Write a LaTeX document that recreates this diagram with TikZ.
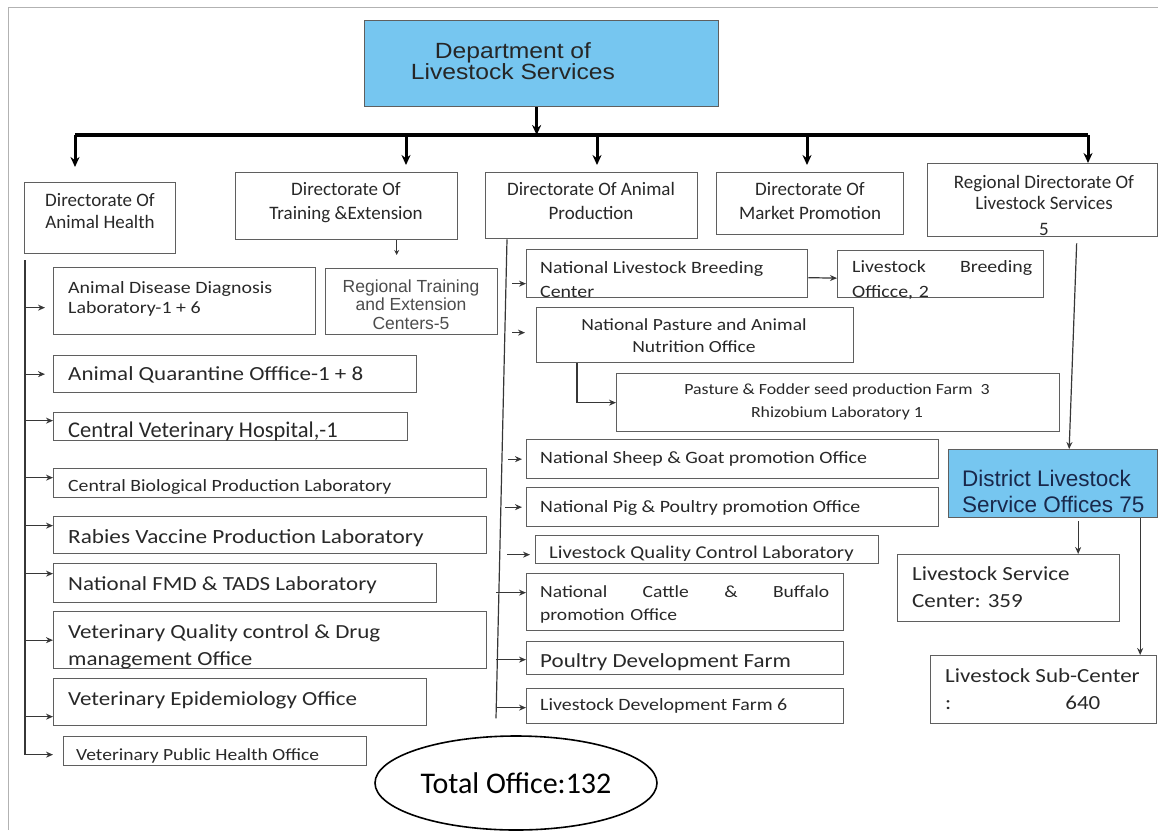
\documentclass[tikz,border=0pt]{standalone}
\usepackage{fontspec}
\usetikzlibrary{arrows.meta,shapes.geometric}
\setmainfont{Carlito}
\newfontfamily\calw{Carlito}[FakeStretch=1.15]
\newfontfamily\arif{Liberation Sans}
\newfontfamily\ariw{Liberation Sans}[FakeStretch=1.12]
\newcommand{\fsz}[2]{\fontsize{#1}{#2}\selectfont}
\definecolor{skyb}{RGB}{118,198,240}
\definecolor{boxc}{RGB}{95,95,95}
\definecolor{linec}{RGB}{55,55,55}
\definecolor{txt}{RGB}{40,40,40}
\definecolor{dnavy}{RGB}{25,40,75}

\begin{document}
\begin{tikzpicture}[x=1pt,y=-1pt,
  box/.style={draw=boxc,line width=1.3pt,anchor=north west,inner sep=0pt},
  lbl/.style={anchor=base west,inner sep=0pt,text=txt,align=left},
  clbl/.style={anchor=base,inner sep=0pt,text=txt,align=center},
  bigarrow/.style={line width=3pt,-{Stealth[length=10pt,width=9pt]}},
  sarrow/.style={draw=linec,line width=1.2pt,-{Stealth[length=7pt,width=6pt]}},
  tarrow/.style={draw=linec,line width=1pt,-{Stealth[length=5pt,width=5pt]}}]
\useasboundingbox (0,0) rectangle (1158,830);
\draw[gray!60,line width=1pt] (8,830) -- (8,7) -- (1158,7);

% department
\node[box,fill=skyb,minimum width=354,minimum height=86] (dls) at (364,20) {};
\node[clbl,font=\ariw\fsz{22}{21},text=black!85] (dlst) at (513,79) {Department of\\Livestock Services};

% bus
\coordinate (busl) at (75,135);
\coordinate (busr) at (1088,135);
\coordinate (bdte) at (406,135);
\coordinate (bdap) at (597,135);
\coordinate (bdmp) at (807,135);
\draw[line width=3.5pt] (busl) -- (busr);
\draw[bigarrow] ([xshift=-5]dls.south) -- ([xshift=-5]dls.south |- busl);

% directorates
\node[box,minimum width=151,minimum height=71] (dah) at (24,182) {};
\node[clbl,font=\fsz{19}{22}] (daht) at (100,228) {Directorate Of\\Animal Health};
\node[box,minimum width=222,minimum height=67] (dte) at (235,172) {};
\node[clbl,font=\fsz{19}{24}] (dtet) at (346,219) {Directorate Of\\Training \&Extension};
\node[box,minimum width=212,minimum height=66] (dap) at (485,172) {};
\node[clbl,font=\fsz{19}{24}] (dapt) at (591,219) {Directorate Of Animal\\Production};
\node[box,minimum width=187,minimum height=62] (dmp) at (716,172) {};
\node[clbl,font=\fsz{19}{24}] (dmpt) at (810,219) {Directorate Of\\Market Promotion};
\node[box,minimum width=230,minimum height=73] (rdls) at (927,163) {};
\node[clbl,font=\fsz{19}{21}] (rdlst) at (1044,235) {Regional Directorate Of\\Livestock Services\\[5pt]5};

\draw[bigarrow,shorten >=15] (busl) -- (busl |- dah.north);
\draw[bigarrow,shorten >=7] (bdte) -- (bdte |- dte.north);
\draw[bigarrow,shorten >=7] (bdap) -- (bdap |- dap.north);
\draw[bigarrow,shorten >=7] (bdmp) -- (bdmp |- dmp.north);
\draw[bigarrow] (busr) -- (busr |- rdls.north);

% animal health
\node[box,minimum width=262,minimum height=67] (adl) at (53,267) {};
\node[lbl,font=\calw\fsz{17.3}{20}] (adlt) at (68,313) {Animal Disease Diagnosis\\Laboratory-1 + 6};
\node[box,minimum width=363,minimum height=37] (aqo) at (53,355) {};
\node[lbl,font=\calw\fsz{20}{24}] (aqot) at (68,380) {Animal Quarantine Offfice-1 + 8};
\node[box,minimum width=354,minimum height=28] (cvh) at (53,412) {};
\node[lbl,font=\fsz{22.5}{24}] (cvht) at (68,437) {Central Veterinary Hospital,-1};
\node[box,minimum width=433,minimum height=29] (cbpl) at (53,468) {};
\node[lbl,font=\calw\fsz{17.2}{20}] (cbplt) at (68,491) {Central Biological Production Laboratory};
\node[box,minimum width=433,minimum height=37] (rvpl) at (53,516) {};
\node[lbl,font=\calw\fsz{20.2}{24}] (rvplt) at (68,543) {Rabies Vaccine Production Laboratory};
\node[box,minimum width=383,minimum height=39] (nfmd) at (53,563) {};
\node[lbl,font=\calw\fsz{20}{24}] (nfmdt) at (68,590) {National FMD \& TADS Laboratory};
\node[box,minimum width=433,minimum height=57] (vqc) at (53,611) {};
\node[lbl,font=\calw\fsz{20}{27}] (vqct) at (68,665) {Veterinary Quality control \& Drug\\management Office};
\node[box,minimum width=373,minimum height=47] (veo) at (53,678) {};
\node[lbl,font=\calw\fsz{20}{24}] (veot) at (68,705) {Veterinary Epidemiology Office};
\node[box,minimum width=303,minimum height=29] (vph) at (63,736) {};
\node[lbl,font=\calw\fsz{17}{20}] (vpht) at (76,760) {Veterinary Public Health Office};

\coordinate (ahl) at ([xshift=1,yshift=-6]dah.south west);
\draw[sarrow,shorten >=10] (ahl) |- ([yshift=-3.5]vph.west);
\draw[sarrow,shorten >=8] ([yshift=-6.5]adl.west -| ahl) -- ([yshift=-6.5]adl.west);
\draw[sarrow,shorten >=8] (aqo.west -| ahl) -- (aqo.west);
\draw[sarrow] ([yshift=6]cvh.west -| ahl) -- ([yshift=6]cvh.west);
\draw[sarrow] ([yshift=5.5]cbpl.west -| ahl) -- ([yshift=5.5]cbpl.west);
\draw[sarrow] ([yshift=9.5]rvpl.west -| ahl) -- ([yshift=9.5]rvpl.west);
\draw[sarrow] ([yshift=9.5]nfmd.west -| ahl) -- ([yshift=9.5]nfmd.west);
\draw[sarrow] (vqc.west -| ahl) -- (vqc.west);
\draw[sarrow] ([yshift=-14.5]veo.west -| ahl) -- ([yshift=-14.5]veo.west);

% training
\node[box,minimum width=172,minimum height=66] (rtec) at (325,268) {};
\node[clbl,font=\arif\fsz{17.5}{18.5},text=black!70] (rtect) at (411,329) {Regional Training\\and Extension\\Centers-5};
\draw[tarrow,shorten >=13] ([xshift=50]dte.south) -- ([xshift=50]dte.south |- rtec.north);

% animal production
\node[box,minimum width=281,minimum height=48] (nlbc) at (526,249) {};
\node[lbl,font=\calw\fsz{17.3}{24}] (nlbct) at (540,297) {National Livestock Breeding\\Center};
\node[box,minimum width=206,minimum height=47] (lbo) at (837,250) {};
\node[lbl,font=\calw\fsz{17.3}{25},text width=180] (lbot) at (852,272) {Livestock \hfill Breeding\\Officce, 2};
\node[box,minimum width=317,minimum height=55] (npan) at (536,307) {};
\node[clbl,font=\calw\fsz{17}{22}] (npant) at (694,352) {National Pasture and Animal\\Nutrition Office};
\node[box,minimum width=443,minimum height=58] (pfs) at (616,373) {};
\node[clbl,font=\calw\fsz{15.5}{23}] (pfst) at (837,417) {Pasture \& Fodder seed production Farm~~3\\Rhizobium Laboratory 1};
\node[box,minimum width=412,minimum height=39] (nsgp) at (526,439) {};
\node[lbl,font=\calw\fsz{17.3}{22}] (nsgpt) at (540,463) {National Sheep \& Goat promotion Office};
\node[box,minimum width=412,minimum height=39] (nppp) at (526,487) {};
\node[lbl,font=\calw\fsz{17.3}{22}] (npppt) at (540,512) {National Pig \& Poultry promotion Office};
\node[box,minimum width=343,minimum height=28] (lqcl) at (535,535) {};
\node[lbl,font=\calw\fsz{18}{22}] (lqclt) at (549,558) {Livestock Quality Control Laboratory};
\node[box,minimum width=317,minimum height=57] (ncbp) at (526,573) {};
\node[lbl,font=\calw\fsz{17}{23},text width=289] (ncbpt) at (540,597) {National \hfill Cattle \hfill \& \hfill Buffalo\\promotion Office};
\node[box,minimum width=317,minimum height=33] (pdf) at (526,641) {};
\node[lbl,font=\calw\fsz{20}{24}] (pdft) at (540,667) {Poultry Development Farm};
\node[box,minimum width=317,minimum height=35] (ldf) at (526,688) {};
\node[lbl,font=\calw\fsz{17.3}{22}] (ldft) at (540,710) {Livestock Development Farm 6};

\coordinate (apl) at ([xshift=22]dap.south west);
\coordinate (apb) at ([xshift=-30,yshift=6]ldf.south west);
\draw[draw=linec,line width=1.2pt] (apl) -- (apb);
\draw[sarrow] ([xshift=-14,yshift=-10]nlbc.west) -- ([yshift=-10]nlbc.west);
\draw[sarrow] ([yshift=-4]nlbc.east) -- ([yshift=-4]lbo.west);
\draw[sarrow,shorten >=11] ([xshift=-24,yshift=2.5]npan.west) -- ([yshift=2.5]npan.west);
\draw[sarrow] ([xshift=41]npan.south west) |- (pfs.west);
\draw[sarrow,shorten >=4] ([xshift=-18]nsgp.west) -- (nsgp.west);
\draw[sarrow,shorten >=4] ([xshift=-21]nppp.west) -- (nppp.west);
\draw[sarrow,shorten >=5] ([xshift=-28,yshift=-5]lqcl.west) -- ([yshift=-5]lqcl.west);
\draw[sarrow] ([yshift=9.5]ncbp.west -| apb) -- ([yshift=9.5]ncbp.west);
\draw[sarrow] ([yshift=-1.5]pdf.west -| apb) -- ([yshift=-1.5]pdf.west);
\draw[sarrow] ([yshift=-1.5]ldf.west -| apb) -- ([yshift=-1.5]ldf.west);

% regional
\node[box,fill=skyb,minimum width=209,minimum height=68] (dlso) at (948,449) {};
\node[lbl,font=\arif\fsz{22.5}{26},text=dnavy] (dlsot) at (962,512) {District Livestock\\Service Offices 75};
\node[box,minimum width=222,minimum height=67] (lsc) at (897,554) {};
\node[lbl,font=\calw\fsz{20}{27}] (lsct) at (912,607) {Livestock Service\\Center: 359};
\node[box,minimum width=226,minimum height=68] (lsub) at (930,655) {};
\node[lbl,font=\calw\fsz{20}{27}] (lsubt) at (945,709) {Livestock Sub-Center\\:\hspace{114pt}640};

\draw[sarrow] ([xshift=34,yshift=-6]rdls.south) -- ([xshift=16]dlso.north);
\draw[sarrow] ([xshift=25,yshift=-3]dlso.south) -- ([xshift=25]dlso.south |- lsc.north);
\draw[sarrow] ([xshift=87]dlso.south) -- ([xshift=87]dlso.south |- lsub.north);

% total
\node[draw,ellipse,line width=1.6pt,minimum width=282,minimum height=94,inner sep=0pt,font=\fsz{30}{32},text=black] (tot) at (516,783) {Total Office:132};
\end{tikzpicture}
\end{document}
